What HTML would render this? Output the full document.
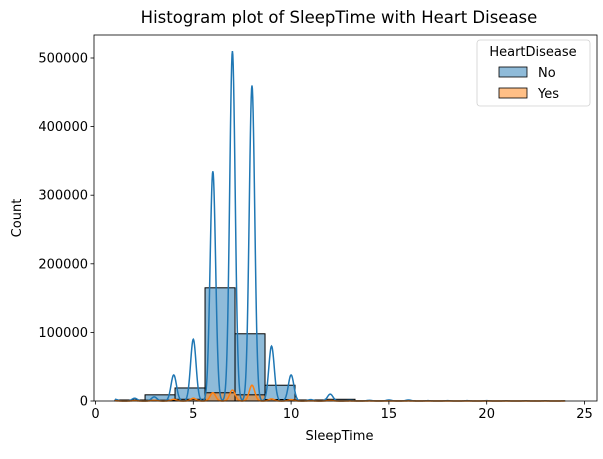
<!DOCTYPE html>
<html><head><meta charset="utf-8"><style>
body{margin:0;background:#fff;font-family:"DejaVu Sans","Liberation Sans",sans-serif}
svg text{font-family:"DejaVu Sans","Liberation Sans",sans-serif}
</style></head><body>
<svg id="c" width="603" height="455" xmlns="http://www.w3.org/2000/svg"></svg>
<script>
const binEdgesStart = 1, binEdgesEnd = 24, binCount = 15;
const countsNo = [1500, 9000, 19000, 165000, 98000, 23000, 1500, 2500, 300, 300, 200, 100, 100, 100, 100];
const countsYes = [200, 1200, 2500, 12000, 9000, 2200, 200, 300, 50, 30, 20, 10, 10, 10, 10];
const kdeHours = [1,2,3,4,5,6,7,8,9,10,11,12,13,14,15,16,17,18,19,20,21,22,23,24];
const kdeNo = [2500,4000,6000,38000,90000,335000,510000,460000,80000,38000,2000,10000,1000,1000,1500,1500,500,500,500,500,300,300,300,300];
const kdeYes = [300,400,1000,2500,4000,12000,16000,23000,3000,2000,200,800,100,100,100,100,50,50,50,50,30,30,30,30];
const xTicks = [0,5,10,15,20,25];
const yTicks = [0,100000,200000,300000,400000,500000];

const NS="http://www.w3.org/2000/svg";
const svg=document.getElementById('c');
const L=94,R=597,T=35,B=401;
const X=v=>95.5+(v-0)*(584-95)/25;
const Y=v=>B-v*(B-58)/500000;
function mk(t,a,p){const e=document.createElementNS(NS,t);for(const k in a)e.setAttribute(k,a[k]);(p||svg).appendChild(e);return e;}

const w=(binEdgesEnd-binEdgesStart)/binCount;
function bars(arr,fill,nm){
  arr.forEach((v,i)=>{
    const x0=X(binEdgesStart+i*w),x1=X(binEdgesStart+(i+1)*w);
    const r=mk('rect',{x:x0,y:Y(v),width:x1-x0,height:Y(0)-Y(v),fill:fill,stroke:'#000','stroke-width':1});
    
    
  });
}
bars(countsNo,'rgba(31,119,180,0.5)','no');
bars(countsYes,'rgba(255,127,14,0.5)','yes');

function kde(arr,color,nm){
  const s=0.14;let d='';
  for(let x=1;x<=24.0001;x+=0.02){
    let y=0;kdeHours.forEach((h,i)=>{y+=arr[i]*Math.exp(-((x-h)*(x-h))/(2*s*s));});
    d+=(d?'L':'M')+X(x).toFixed(2)+','+Y(y).toFixed(2);
  }
  const p=mk('path',{d:d,fill:'none',stroke:color,'stroke-width':1.5});
  
  
}
kde(kdeNo,'#1f77b4','no');
kde(kdeYes,'#ff7f0e','yes');

const fr=mk('rect',{x:L,y:T,width:R-L,height:B-T,fill:'none',stroke:'#000','stroke-width':0.8});


xTicks.forEach(v=>{
  mk('line',{x1:X(v),x2:X(v),y1:B,y2:B+3.5,stroke:'#000','stroke-width':0.8});
  const t=mk('text',{x:X(v),y:B+17,'text-anchor':'middle','font-size':13});t.textContent=v;
  
});
yTicks.forEach(v=>{
  mk('line',{x1:L,x2:L-3.5,y1:Y(v),y2:Y(v),stroke:'#000','stroke-width':0.8});
  const t=mk('text',{x:L-6,y:Y(v)+4.5,'text-anchor':'end','font-size':13});t.textContent=v;
  
});
let t=mk('text',{x:339,y:23,'text-anchor':'middle','font-size':16.5});t.textContent='Histogram plot of SleepTime with Heart Disease';

t=mk('text',{x:(L+R)/2-6,y:440,'text-anchor':'middle','font-size':13});t.textContent='SleepTime';

t=mk('text',{x:21,y:(T+B)/2,'text-anchor':'middle','font-size':13,transform:'rotate(-90 21 '+(T+B)/2+')'});t.textContent='Count';


const g=mk('g',{});

mk('rect',{x:477,y:40,width:113,height:66,rx:3,fill:'#fff',stroke:'#ccc','stroke-width':0.8,opacity:0.9},g);
t=mk('text',{x:533,y:56,'text-anchor':'middle','font-size':13},g);t.textContent='HeartDisease';
[['No','rgba(31,119,180,0.5)',72],['Yes','rgba(255,127,14,0.5)',93]].forEach(([n,f,y])=>{
  const r=mk('rect',{x:499,y:y-5,width:28,height:10,fill:f,stroke:'#000','stroke-width':0.8},g);
  
  const tt=mk('text',{x:538,y:y+5,'font-size':13},g);tt.textContent=n;
  
});
</script>
</body></html>
